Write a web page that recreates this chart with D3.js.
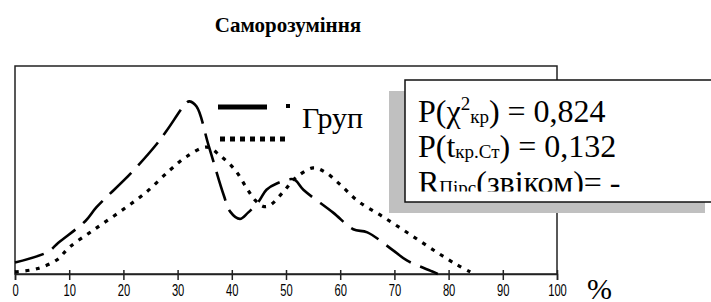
<!DOCTYPE html>
<html>
<head>
<meta charset="utf-8">
<script src="https://cdn.jsdelivr.net/npm/d3@7"></script>
<style>
  body { margin: 0; background: #fff; }
  svg { display: block; }
</style>
</head>
<body>
<div id="chart"></div>
<script>
'use strict';

// Title and texts
const title = "Саморозуміння";
const legendLabel = "Груп";
const axisUnit = "%";
const xTicks = [0, 10, 20, 30, 40, 50, 60, 70, 80, 90, 100];

// Series A (dash-dot): x in %, y frequency
const seriesAx = [0, 6, 8, 13, 15, 21.4, 26, 28, 31.7, 32.2, 33.5, 35.7, 38.5, 39.7, 41.5, 43, 45, 46.4, 48.3, 51.4, 53.2, 58.7, 62.4, 65, 69.7, 72.3, 77.2, 78];
const seriesAy = [1.1, 2.1, 3.0, 5.1, 6.4, 9.7, 12.4, 13.8, 16.5, 16.6, 16.1, 12.4, 7.6, 6.0, 5.3, 5.9, 7.0, 8.1, 8.7, 9.1, 8.1, 5.9, 4.3, 4.0, 2.3, 1.3, 0.2, 0];

// Series B (dotted)
const seriesBx = [0, 4, 7.7, 10.1, 14.4, 19.4, 24.3, 28.6, 31.7, 35.4, 37.8, 40.6, 42.7, 44.3, 45.8, 47, 49.5, 51.7, 55, 57.2, 60, 63.3, 67.9, 72.9, 77.8, 81.5, 84];
const seriesBy = [0.2, 0.5, 1.35, 2.6, 4.2, 6.0, 7.9, 10.0, 11.3, 12.2, 11.4, 10.0, 8.3, 7.1, 6.5, 6.6, 7.9, 9.2, 10.2, 9.8, 8.6, 7.0, 5.5, 3.8, 2.1, 0.9, 0.2];

const W = 711, H = 302;
const plot = { left: 15, right: 557, top: 66, bottom: 274 };
const SERIF = "Liberation Serif";

const svg = d3.select("#chart").append("svg")
  .attr("width", W)
  .attr("height", H);

const x = d3.scaleLinear().domain([0, 100]).range([plot.left, plot.right]);
const y = d3.scaleLinear().domain([0, 20]).range([plot.bottom, plot.top]);

// Title
svg.append("text")
  .attr("x", 288)
  .attr("y", 32)
  .attr("text-anchor", "middle")
  .style("font-family", SERIF)
  .style("font-size", "21px")
  .style("font-weight", "bold")
  .text(title);

// Plot frame
svg.append("rect")
  .attr("x", plot.left)
  .attr("y", plot.top)
  .attr("width", plot.right - plot.left)
  .attr("height", plot.bottom - plot.top)
  .attr("fill", "none")
  .attr("stroke", "#222")
  .attr("stroke-width", 1.5);

// x axis, ticks cross the line
const axis = svg.append("g")
  .attr("transform", `translate(0,${plot.bottom})`)
  .call(d3.axisBottom(x).tickValues(xTicks).tickSize(6).tickPadding(5).tickFormat(d3.format("d")));
axis.select(".domain").attr("stroke", "#222").attr("stroke-width", 1.5);
axis.selectAll(".tick line").attr("y1", -4).attr("stroke", "#222").attr("stroke-width", 1.5);
axis.selectAll(".tick text")
  .style("font-family", "Liberation Sans")
  .style("font-size", "16px")
  .attr("fill", "#000")
  .attr("transform", "scale(0.7,1)");

svg.append("text")
  .attr("x", 587)
  .attr("y", 299)
  .style("font-family", SERIF)
  .style("font-size", "30px")
  .text(axisUnit);

// Curves
const line = d3.line()
  .x(d => x(d[0]))
  .y(d => y(d[1]))
  .curve(d3.curveCatmullRom.alpha(0.5));

svg.append("path")
  .datum(d3.zip(seriesAx, seriesAy))
  .attr("d", line)
  .attr("fill", "none")
  .attr("stroke", "#000")
  .attr("stroke-width", 2.6)
  .attr("stroke-dasharray", "30,10");

svg.append("path")
  .datum(d3.zip(seriesBx, seriesBy))
  .attr("d", line)
  .attr("fill", "none")
  .attr("stroke", "#000")
  .attr("stroke-width", 3.2)
  .attr("stroke-dasharray", "4,6.5");

// Legend
const legend = svg.append("g");
legend.append("line")
  .attr("x1", 218).attr("x2", 267).attr("y1", 107).attr("y2", 107)
  .attr("stroke", "#000").attr("stroke-width", 5);
legend.append("line")
  .attr("x1", 286).attr("x2", 290).attr("y1", 106).attr("y2", 106)
  .attr("stroke", "#000").attr("stroke-width", 4);
legend.append("line")
  .attr("x1", 220).attr("x2", 286).attr("y1", 139).attr("y2", 139)
  .attr("stroke", "#000").attr("stroke-width", 5)
  .attr("stroke-dasharray", "5,5");
legend.append("text")
  .attr("x", 302)
  .attr("y", 128)
  .style("font-family", SERIF)
  .style("font-size", "30px")
  .text(legendLabel);

// Stats box with shadow
svg.append("rect")
  .attr("x", 389).attr("y", 91).attr("width", 316).attr("height", 122)
  .attr("fill", "#c0c0c0");
svg.append("rect")
  .attr("x", 405).attr("y", 80).attr("width", 316).attr("height", 122)
  .attr("fill", "#fff").attr("stroke", "#111").attr("stroke-width", 1.5);

svg.append("clipPath").attr("id", "boxclip")
  .append("rect").attr("x", 406).attr("y", 81).attr("width", 310).attr("height", 110.5);

const stats = svg.append("g")
  .attr("clip-path", "url(#boxclip)")
  .style("font-family", SERIF)
  .style("font-size", "32px");

const t1 = stats.append("text").attr("x", 418).attr("y", 122);
t1.append("tspan").text("P(χ");
t1.append("tspan").attr("dy", -12).style("font-size", "19px").text("2");
t1.append("tspan").attr("dy", 13).style("font-size", "19px").text("кр");
t1.append("tspan").attr("dy", -1).text(") = 0,824");

const t2 = stats.append("text").attr("x", 418).attr("y", 156.5);
t2.append("tspan").text("P(t");
t2.append("tspan").attr("dy", 1).style("font-size", "19px").text("кр.Ст");
t2.append("tspan").attr("dy", -1).text(") = 0,132");

const t3 = stats.append("text").attr("x", 418).attr("y", 193);
t3.append("tspan").text("R");
t3.append("tspan").attr("dy", 1).style("font-size", "19px").text("Пірс");
t3.append("tspan").attr("dy", -1).text("(звіком)= -");
</script>
</body>
</html>
